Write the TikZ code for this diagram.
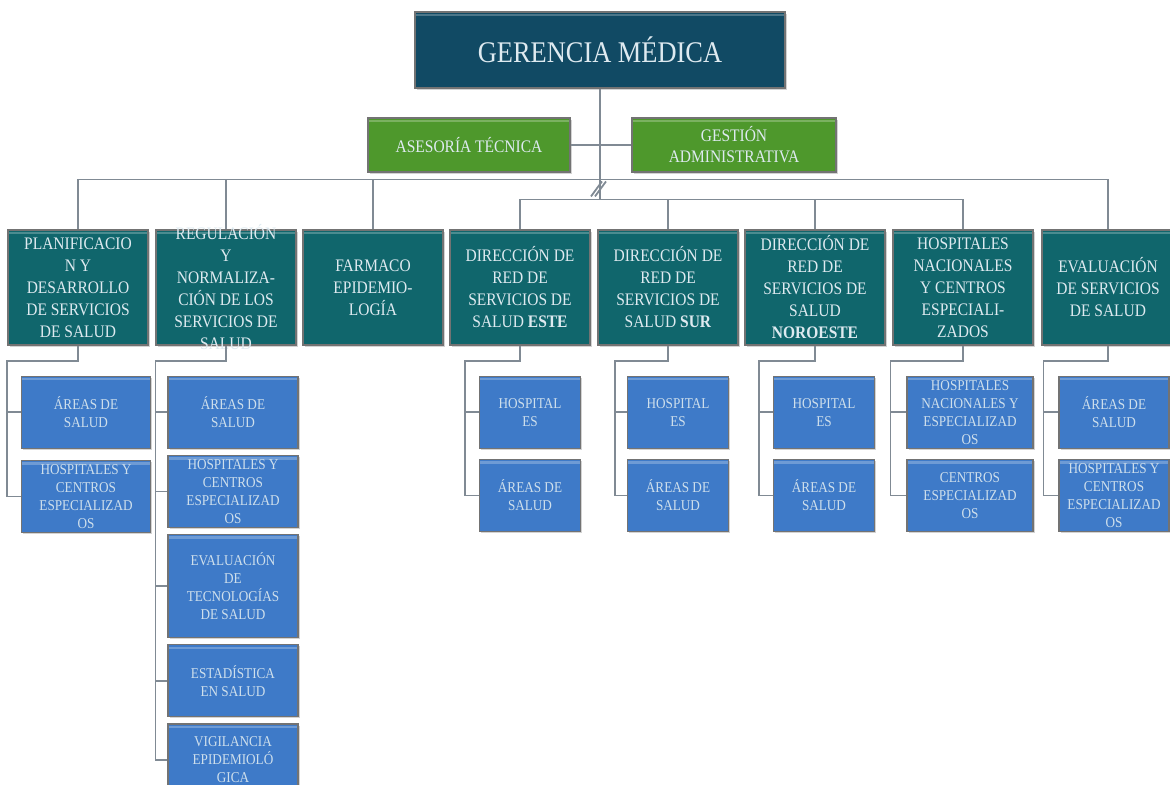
\documentclass[tikz,border=0pt]{standalone}
\usepackage{fontspec}
\setmainfont[FakeStretch=0.88]{Liberation Serif}
\usepackage{tikz}
\usetikzlibrary{positioning,calc,shadows}

\definecolor{gerblue}{RGB}{17,74,100}
\definecolor{staffgreen}{RGB}{78,152,44}
\definecolor{unitteal}{RGB}{16,102,108}
\definecolor{subblue}{RGB}{62,122,200}
\definecolor{linegray}{RGB}{128,138,148}
\definecolor{boxtext}{RGB}{222,234,240}

\begin{document}
\begin{tikzpicture}[
    x=0.5pt,y=-0.5pt,
    box/.style={draw=black!55,line width=0.6pt,align=center,inner sep=1pt,text=boxtext,
      drop shadow={shadow xshift=0.8pt,shadow yshift=-0.8pt,opacity=0.35},
      path picture={\draw[white,opacity=0.25,line width=1.2pt]
        ([yshift=-1.5pt]path picture bounding box.north west) -- ([yshift=-1.5pt]path picture bounding box.north east);}},
    gerbox/.style={box,fill=gerblue,minimum width=185pt,minimum height=38pt,font=\fontsize{15}{18}\selectfont},
    staffbox/.style={box,fill=staffgreen,minimum width=101pt,minimum height=27pt,font=\fontsize{8.8}{10.5}\selectfont},
    unitbox/.style={box,fill=unitteal,minimum width=70pt,minimum height=57.5pt,font=\fontsize{8.8}{11}\selectfont},
    subbox/.style={box,fill=subblue,minimum width=65pt,minimum height=36pt,font=\fontsize{7.5}{9}\selectfont,text=boxtext!90!subblue},
    conn/.style={draw=linegray,line width=0.9pt}
  ]
    \useasboundingbox (0,0) rectangle (1170,784);

    % top
    \node[gerbox] (ger) at (600,50) {GERENCIA MÉDICA};
    \node[staffbox] (ase) at (469,145) {ASESORÍA TÉCNICA};
    \node[staffbox,minimum width=102pt] (ges) at (734,145) {GESTIÓN\\ADMINISTRATIVA};

    % units
    \node[unitbox] (pla) at (78,287.5) {PLANIFICACIO\\N Y\\DESARROLLO\\DE SERVICIOS\\DE SALUD};
    \node[unitbox,right=3.4pt of pla,inner ysep=-4pt] (reg) {REGULACIÓN\\Y\\NORMALIZA-\\CIÓN DE LOS\\SERVICIOS DE\\SALUD};
    \node[unitbox,right=2.9pt of reg] (far) {FARMACO\\EPIDEMIO-\\LOGÍA};
    \node[unitbox,right=2.9pt of far] (est) {DIRECCIÓN DE\\RED DE\\SERVICIOS DE\\SALUD \textbf{ESTE}};
    \node[unitbox,right=3.4pt of est] (sur) {DIRECCIÓN DE\\RED DE\\SERVICIOS DE\\SALUD \textbf{SUR}};
    \node[unitbox,right=2.9pt of sur] (nor) {DIRECCIÓN DE\\RED DE\\SERVICIOS DE\\SALUD\\\textbf{NOROESTE}};
    \node[unitbox,right=3.4pt of nor] (hos) {HOSPITALES\\NACIONALES\\Y CENTROS\\ESPECIALI-\\ZADOS};
    \node[unitbox,right=3.9pt of hos,minimum width=66pt] (eva) {EVALUACIÓN\\DE SERVICIOS\\DE SALUD};

    % sub units
    \node[subbox,below=15pt of pla,xshift=4pt,minimum width=64.5pt] (pla1) {ÁREAS DE\\SALUD};
    \node[subbox,below=5.5pt of pla1,minimum width=64.5pt] (pla2) {HOSPITALES Y\\CENTROS\\ESPECIALIZAD\\OS};

    \node[subbox,below=15pt of reg,xshift=3.5pt] (reg1) {ÁREAS DE\\SALUD};
    \node[subbox,below=3pt of reg1] (reg2) {HOSPITALES Y\\CENTROS\\ESPECIALIZAD\\OS};
    \node[subbox,below=3pt of reg2,minimum height=51.5pt] (reg3) {EVALUACIÓN\\DE\\TECNOLOGÍAS\\DE SALUD};
    \node[subbox,below=3pt of reg3] (reg4) {ESTADÍSTICA\\EN SALUD};
    \node[subbox,below=3pt of reg4] (reg5) {VIGILANCIA\\EPIDEMIOLÓ\\GICA};

    \node[subbox,below=15pt of est,xshift=5pt,minimum width=50.5pt] (est1) {HOSPITAL\\ES};
    \node[subbox,below=5pt of est1,minimum width=50.5pt] (est2) {ÁREAS DE\\SALUD};
    \node[subbox,below=15pt of sur,xshift=5pt,minimum width=50.5pt] (sur1) {HOSPITAL\\ES};
    \node[subbox,below=5pt of sur1,minimum width=50.5pt] (sur2) {ÁREAS DE\\SALUD};
    \node[subbox,below=15pt of nor,xshift=4.5pt,minimum width=50.5pt] (nor1) {HOSPITAL\\ES};
    \node[subbox,below=5pt of nor1,minimum width=50.5pt] (nor2) {ÁREAS DE\\SALUD};
    \node[subbox,below=15pt of hos,xshift=3.5pt,minimum width=63pt] (hos1) {HOSPITALES\\NACIONALES Y\\ESPECIALIZAD\\OS};
    \node[subbox,below=5pt of hos1,minimum width=63pt] (hos2) {CENTROS\\ESPECIALIZAD\\OS};
    \node[subbox,below=15pt of eva,xshift=3pt,minimum width=55pt] (eva1) {ÁREAS DE\\SALUD};
    \node[subbox,below=5pt of eva1,minimum width=55pt] (eva2) {HOSPITALES Y\\CENTROS\\ESPECIALIZAD\\OS};

    % connectors
    \coordinate (bus) at ($(est.north)+(0,-30)$);
    \draw[conn] (ger.south) -- (ger.south |- bus);
    \draw[conn] (ase.east) -- (ges.west);
    \draw[conn] ($(ger.south |- bus)+(-9,-3)$) -- ++(11,-15);
    \draw[conn] ($(ger.south |- bus)+(-5,-3)$) -- ++(11,-15);

    \draw[conn] (pla.north) -- ++(0,-50) -| (eva.north);
    \draw[conn] (reg.north) -- ++(0,-50);
    \draw[conn] (far.north) -- ++(0,-50);
    \draw[conn] (est.north) -- ++(0,-30) -| (hos.north);
    \draw[conn] (sur.north) -- ++(0,-30);
    \draw[conn] (nor.north) -- ++(0,-30);

    \draw[conn] (pla.south) -- ++(0,15) -| ([xshift=-7pt]pla2.west) -- (pla2.west);
    \draw[conn] ([xshift=-7pt]pla1.west) -- (pla1.west);
    \draw[conn] (reg.south) -- ++(0,15) -| ([xshift=-6pt]reg5.west) -- (reg5.west);
    \draw[conn] ([xshift=-6pt]reg1.west) -- (reg1.west);
    \draw[conn] ([xshift=-6pt]reg2.west) -- (reg2.west);
    \draw[conn] ([xshift=-6pt]reg3.west) -- (reg3.west);
    \draw[conn] ([xshift=-6pt]reg4.west) -- (reg4.west);
    \draw[conn] (est.south) -- ++(0,15) -| ([xshift=-7pt]est2.west) -- (est2.west);
    \draw[conn] ([xshift=-7pt]est1.west) -- (est1.west);
    \draw[conn] (sur.south) -- ++(0,15) -| ([xshift=-6pt]sur2.west) -- (sur2.west);
    \draw[conn] ([xshift=-6pt]sur1.west) -- (sur1.west);
    \draw[conn] (nor.south) -- ++(0,15) -| ([xshift=-7pt]nor2.west) -- (nor2.west);
    \draw[conn] ([xshift=-7pt]nor1.west) -- (nor1.west);
    \draw[conn] (hos.south) -- ++(0,15) -| ([xshift=-8pt]hos2.west) -- (hos2.west);
    \draw[conn] ([xshift=-8pt]hos1.west) -- (hos1.west);
    \draw[conn] (eva.south) -- ++(0,15) -| ([xshift=-7.5pt]eva2.west) -- (eva2.west);
    \draw[conn] ([xshift=-7.5pt]eva1.west) -- (eva1.west);
  \end{tikzpicture}
\end{document}
